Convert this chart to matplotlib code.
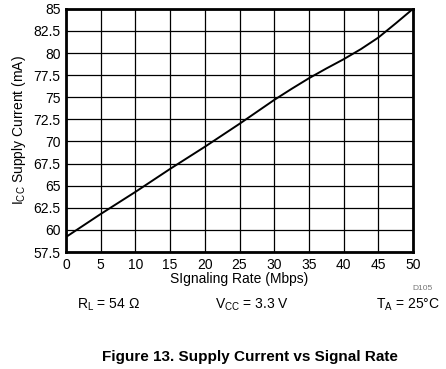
import numpy as np
import matplotlib
matplotlib.use('Agg')
import matplotlib.pyplot as plt

plt.rcParams['font.family'] = ['Liberation Sans', 'DejaVu Sans']
plt.rcParams['mathtext.fontset'] = 'custom'
plt.rcParams['mathtext.rm'] = 'Liberation Sans'

# signaling rate (Mbps) and supply current (mA)
rate = [0, 2.5, 5, 7.5, 10, 12.5, 15, 17.5, 20, 22.5, 25, 27.5, 30,
        32.5, 35, 37.5, 40, 42.5, 45, 47.5, 50]
icc = [59.2, 60.5, 61.8, 63.05, 64.3, 65.6, 66.9, 68.15, 69.4, 70.7, 72.0,
       73.35, 74.7, 75.95, 77.15, 78.25, 79.3, 80.45, 81.75, 83.35, 85.0]

xticks = np.arange(0, 51, 5)
yticks = np.arange(57.5, 85.1, 2.5)
ylabels = ['57.5', '60', '62.5', '65', '67.5', '70', '72.5', '75', '77.5', '80', '82.5', '85']

fig = plt.figure(figsize=(4.46, 3.69), dpi=100)
ax = fig.add_axes([0.148, 0.317, 0.778, 0.659])
ax.plot(rate, icc, color='black', lw=1.4)
ax.set_xlim(0, 50)
ax.set_ylim(57.5, 85)
ax.set_xticks(xticks)
ax.set_yticks(yticks)
ax.set_yticklabels(ylabels)
ax.grid(True, color='black', lw=0.9)
ax.tick_params(length=0, labelsize=10, pad=4)
for s in ax.spines.values():
    s.set_linewidth(2)
ax.set_xlabel('SIgnaling Rate (Mbps)', fontsize=10, labelpad=0)
ax.set_ylabel(r'I$_\mathregular{CC}$ Supply Current (mA)', fontsize=10, labelpad=4)

# test conditions under the plot
fig.text(77/446, 1 - 305/369, r'R$_\mathregular{L}$ = 54 Ω', fontsize=10, va='center')
fig.text(215/446, 1 - 305/369, r'V$_\mathregular{CC}$ = 3.3 V', fontsize=10, va='center')
fig.text(440/446, 1 - 305/369, r'T$_\mathregular{A}$ = 25°C', fontsize=10, va='center', ha='right')
fig.text(433/446, 1 - 288/369, 'D105', fontsize=6, color='#777777', va='center', ha='right')
fig.text(250/446, 1 - 357/369, 'Figure 13. Supply Current vs Signal Rate',
         fontsize=11, fontweight='bold', ha='center', va='center')

fig.savefig('out.png', dpi=100)
